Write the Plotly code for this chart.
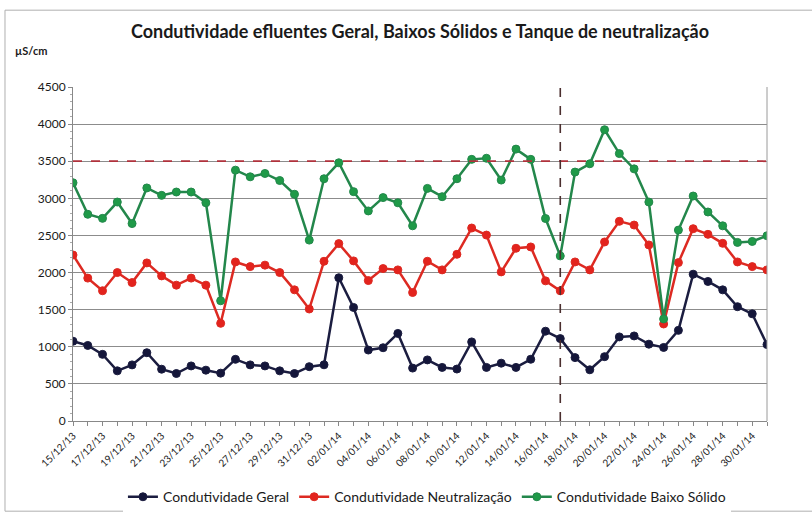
import pandas as pd
import plotly.graph_objects as go

dates = pd.date_range("2013-12-15", "2014-01-31", freq="D")

geral = [1075, 1018, 898, 676, 756, 920, 698, 640, 742, 685,
         645, 831, 756, 742, 676, 640, 732, 757, 1930, 1530,
         956, 987, 1180, 713, 823, 722, 700, 1066, 722, 779,
         722, 832, 1210, 1110, 854, 690, 867, 1133, 1146, 1035,
         991, 1221, 1978, 1880, 1767, 1540, 1444, 1030]

neutralizacao = [2237, 1925, 1755, 2000, 1865, 2130, 1955, 1830, 1925, 1830,
                 1316, 2143, 2080, 2100, 2000, 1767, 1509, 2152, 2390, 2157,
                 1892, 2054, 2036, 1731, 2152, 2036, 2246, 2600, 2505, 2009,
                 2327, 2345, 1888, 1754, 2143, 2036, 2412, 2690, 2640, 2372,
                 1307, 2134, 2591, 2515, 2394, 2143, 2080, 2036]

baixo_solido = [3210, 2785, 2730, 2950, 2660, 3140, 3040, 3085, 3085, 2940,
                1620, 3380, 3290, 3335, 3240, 3055, 2437, 3264, 3479, 3090,
                2830, 3010, 2940, 2630, 3134, 3022, 3264, 3525, 3540, 3246,
                3663, 3525, 2728, 2224, 3354, 3466, 3924, 3603, 3397, 2950,
                1375, 2572, 3031, 2816, 2630, 2406, 2419, 2496]

limite = 3500
marco = "2014-01-17"

series = [
    ("Condutividade Geral", geral, "#1b1d40", "#14163a"),
    ("Condutividade Neutralização", neutralizacao, "#dd2a22", "#e3231d"),
    ("Condutividade Baixo Sólido", baixo_solido, "#23874b", "#1f9a48"),
]

fig = go.Figure()
for name, vals, lc, mc in series:
    fig.add_trace(go.Scatter(
        x=dates, y=vals, name=name, mode="lines+markers",
        line=dict(color=lc, width=2.5),
        marker=dict(color=mc, size=8, line=dict(color=lc, width=1)),
    ))

font_family = "Lato, 'Open Sans', sans-serif"

fig.add_shape(type="line", xref="paper", yref="y", x0=0, x1=1, y0=limite, y1=limite,
              line=dict(color="#b0323c", width=1.8, dash="dash"))
fig.add_shape(type="line", xref="x", yref="paper", x0=marco, x1=marco, y0=0, y1=1,
              line=dict(color="#4a2e2e", width=1.6, dash="dash"))
fig.add_shape(type="rect", xref="paper", yref="paper",
              x0=-0.098, x1=1.145, y0=-0.27, y1=1.23,
              line=dict(color="#b0b0b0", width=1))

fig.update_layout(
    width=812, height=516,
    margin=dict(l=73, r=45, t=87, b=95, autoexpand=False),
    paper_bgcolor="white", plot_bgcolor="white",
    font=dict(family=font_family, color="#1a1a1a", size=11),
    title=dict(text="<b>Condutividade efluentes Geral, Baixos Sólidos e Tanque de neutralização</b>",
               xref="paper", x=0.5, xanchor="center", y=0.938, yanchor="middle",
               font=dict(size=18, family=font_family, color="#1a1a1a")),
    showlegend=True,
    legend=dict(orientation="h", x=0.51, xanchor="center", y=-0.228, yanchor="middle",
                font=dict(size=14, family=font_family), itemwidth=30),
    annotations=[dict(text="<b>µS/cm</b>", xref="paper", yref="paper",
                      x=-0.087, y=1.11, xanchor="left", yanchor="middle",
                      showarrow=False, font=dict(size=11, family=font_family))],
)

fig.update_xaxes(
    type="date", range=[dates[0], dates[-1]], automargin=False,
    tick0=dates[0], dtick=2 * 86400000, tickformat="%d/%m/%y",
    tickangle=-45, tickfont=dict(size=10, family=font_family),
    ticks="outside", ticklen=4, tickcolor="#888",
    minor=dict(dtick=86400000, ticks="outside", ticklen=4, tickcolor="#888"),
    showgrid=False, showline=True, linecolor="#888", linewidth=1, mirror=False,
)
fig.update_yaxes(
    range=[0, 4500], dtick=500, tickformat="d", automargin=False,
    tickfont=dict(size=12, family=font_family),
    showgrid=True, gridcolor="#8c8c8c", gridwidth=1,
    showline=True, linecolor="#888", linewidth=1,
    ticks="outside", ticklen=4, tickcolor="#888",
    minor=dict(dtick=100, ticks="outside", ticklen=2, tickcolor="#aaa"),
    zeroline=False,
)
fig.add_shape(type="line", xref="paper", yref="paper", x0=1, x1=1, y0=0, y1=1,
              line=dict(color="#9a9a9a", width=1))

fig.write_html("out.html")
